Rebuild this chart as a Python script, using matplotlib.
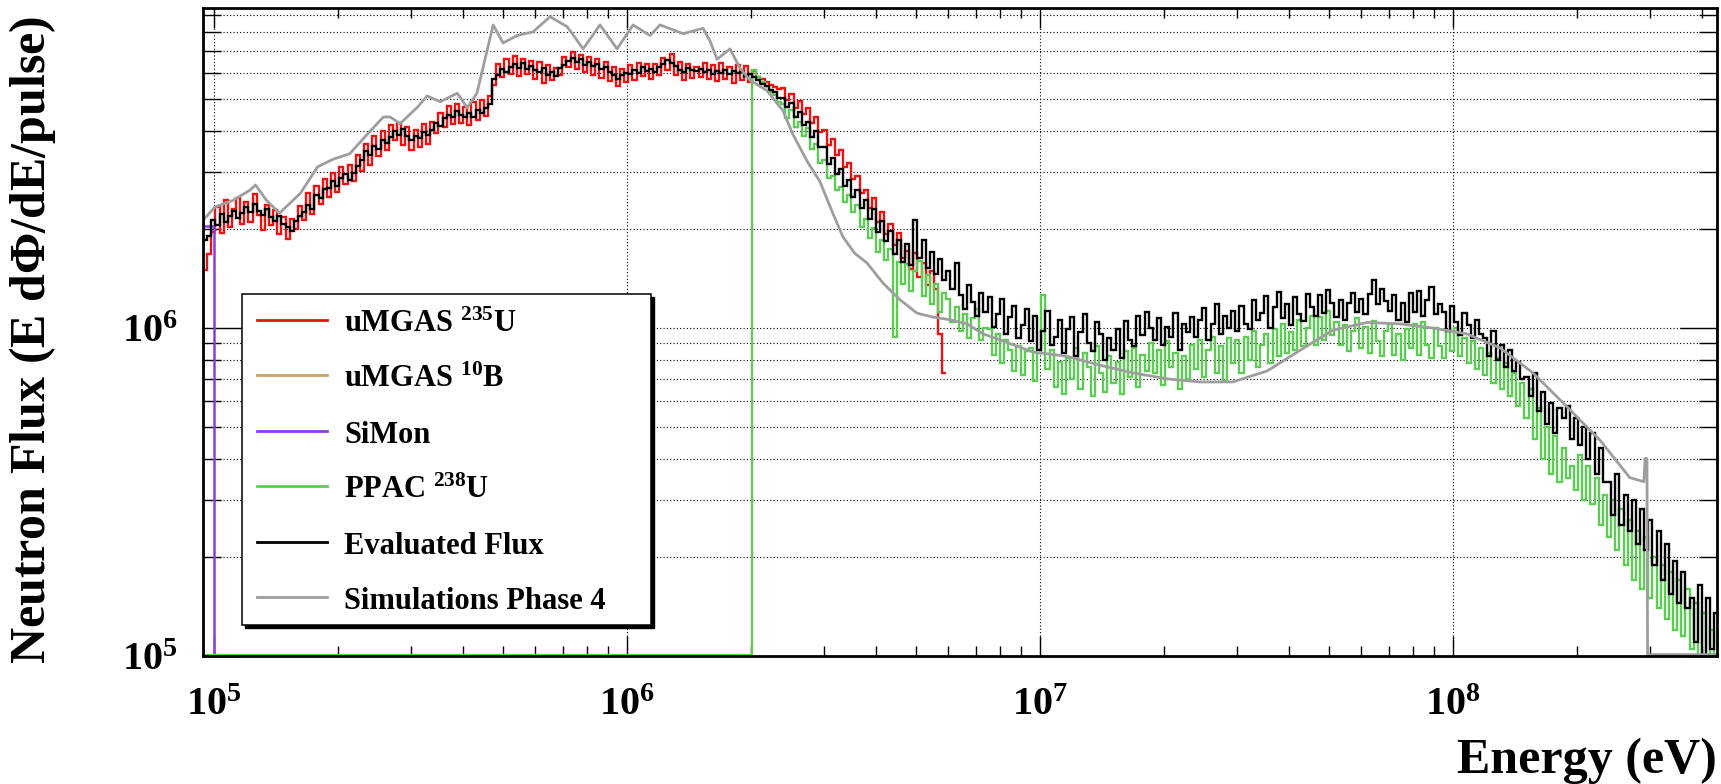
# Neutron flux: detector measurements vs. evaluated flux and simulation

import numpy as np
import matplotlib
matplotlib.use("Agg")
import matplotlib.pyplot as plt
from matplotlib.lines import Line2D
from matplotlib.patches import Rectangle
from matplotlib.ticker import LogLocator, FuncFormatter, NullFormatter

plt.rcParams['font.family'] = 'Liberation Serif'
plt.rcParams['font.weight'] = 'bold'
plt.rcParams['mathtext.fontset'] = 'custom'
plt.rcParams['mathtext.rm'] = 'Liberation Serif:bold'
plt.rcParams['mathtext.bf'] = 'Liberation Serif:bold'
plt.rcParams['mathtext.it'] = 'Liberation Serif:bold:italic'
plt.rcParams['mathtext.default'] = 'bf'

# histogram binning (log bins)
e_min, e_max = 9.4e4, 4.36e8
bins_per_decade = 100
edges = e_min * 10 ** (np.arange(368) / bins_per_decade)

# evaluated flux, in units of 1e5 per pulse
evaluated = np.array([
    18.5, 19.1, 21.4, 20.6, 22.3, 21.0, 21.9, 22.8, 21.6, 22.5,
    23.4, 22.6, 23.9, 22.8, 22.1, 23.0, 21.8, 21.2, 22.0, 20.7,
    20.3, 19.8, 21.2, 21.9, 22.6, 23.8, 23.1, 25.4, 24.9, 26.6,
    26.8, 28.1, 27.2, 28.6, 29.4, 28.3, 29.7, 31.2, 32.5, 34.6,
    33.8, 35.9, 35.2, 37.4, 36.6, 38.3, 39.8, 38.9, 40.4, 38.5,
    37.4, 38.6, 37.9, 39.6, 38.7, 40.3, 42.1, 41.4, 43.6, 44.5,
    44.0, 45.8, 44.7, 43.9, 45.3, 44.1, 46.2, 45.4, 47.0, 48.3,
    57.6, 59.3, 61.5, 60.2, 62.4, 63.8, 62.0, 64.1, 61.7, 62.9,
    61.3, 60.4, 62.2, 59.1, 60.5, 58.8, 61.9, 63.6, 65.4, 66.8,
    64.7, 65.9, 63.5, 64.8, 62.9, 63.7, 61.6, 62.4, 60.3, 59.2,
    57.6, 58.9, 60.1, 59.4, 61.2, 60.0, 62.3, 60.7, 61.5, 60.4,
    62.6, 63.9, 65.6, 64.2, 62.8, 61.3, 60.5, 62.0, 61.1, 60.6,
    61.8, 60.4, 61.2, 59.7, 60.9, 60.1, 61.4, 59.5, 60.6, 59.9,
    60.2, 58.8, 59.6, 58.1, 57.2, 55.4, 54.6, 53.1, 52.3, 50.4,
    50.3, 47.2, 48.6, 44.1, 45.5, 41.6, 42.4, 38.2, 39.9, 35.7,
    35.6, 31.7, 33.0, 29.4, 30.6, 27.2, 28.3, 25.1, 26.4, 23.3,
    24.6, 21.5, 23.0, 19.6, 21.2, 18.4, 19.7, 16.8, 18.6, 15.9,
    18.0, 15.6, 21.3, 16.4, 18.5, 15.2, 17.1, 14.6, 16.2, 14.0,
    14.9, 13.2, 15.8, 12.6, 11.4, 13.5, 12.0, 10.9, 12.8, 11.2,
    12.4, 10.1, 11.0, 12.3, 9.6, 10.8, 11.7, 9.3, 10.2, 11.4,
    9.1, 10.9, 8.6, 9.8, 11.3, 8.9, 9.4, 10.6, 8.4, 9.9,
    10.8, 8.2, 9.7, 11.0, 9.0, 8.5, 10.4, 9.6, 8.0, 9.3,
    8.6, 9.9, 8.1, 10.5, 9.2, 8.8, 10.9, 9.5, 11.2, 10.0,
    9.2, 10.7, 8.9, 10.1, 9.4, 11.1, 8.6, 10.3, 9.7, 10.8,
    9.4, 10.6, 11.5, 9.2, 10.3, 11.8, 9.6, 10.9, 10.0, 11.3,
    9.8, 11.7, 10.3, 9.9, 12.2, 10.6, 11.1, 12.5, 10.0, 11.6,
    12.9, 10.7, 11.8, 10.2, 12.4, 11.0, 10.5, 12.7, 11.6, 10.9,
    12.6, 11.1, 13.1, 11.9, 10.8, 12.2, 10.6, 11.9, 12.8, 11.2,
    12.3, 11.0, 12.7, 14.0, 11.8, 13.2, 12.1, 11.3, 12.6, 10.6,
    11.9, 10.4, 12.8, 11.2, 13.0, 10.9, 12.2, 13.3, 11.0, 11.8,
    11.2, 9.8, 11.7, 10.4, 9.5, 11.1, 10.2, 9.3, 10.6, 9.6,
    9.3, 8.2, 9.8, 8.0, 8.9, 7.6, 8.6, 7.4, 7.9, 7.0,
    7.1, 6.2, 7.3, 5.6, 6.4, 5.1, 5.9, 4.8, 5.7, 5.3,
    5.8, 4.6, 5.3, 4.4, 5.0, 4.0, 4.8, 3.6, 4.3, 3.4,
    3.4, 2.7, 3.6, 2.5, 3.1, 2.4, 3.0, 2.2, 2.8, 2.1,
    2.6, 1.9, 2.4, 1.7, 2.2, 1.55, 1.95, 1.45, 1.8, 1.4,
    1.5, 1.1, 1.65, 0.9, 1.5, 1.05, 1.35]) * 1e5

umgas_u235 = np.array([
    15.0, 16.8, 19.6, 23.4, 19.5, 24.6, 20.3, 23.1, 25.0, 20.8,
    24.3, 21.0, 25.6, 22.1, 19.9, 23.7, 20.6, 22.9, 19.4, 21.8,
    18.7, 21.5, 20.0, 23.6, 21.4, 25.8, 22.3, 27.2, 23.9, 28.4,
    25.1, 29.8, 26.0, 30.9, 27.4, 31.5, 28.0, 33.6, 30.2, 36.4,
    31.5, 38.6, 33.4, 39.9, 34.8, 41.7, 37.5, 42.2, 36.1, 41.0,
    34.9, 40.2, 35.6, 41.8, 36.3, 42.5, 39.4, 45.3, 41.0, 47.7,
    41.8, 48.2, 42.3, 47.1, 41.6, 48.8, 43.2, 49.6, 44.4, 50.9,
    55.0, 63.9, 58.2, 66.1, 59.4, 67.3, 58.8, 66.0, 59.5, 65.2,
    57.4, 64.8, 56.0, 63.5, 57.1, 62.2, 58.9, 67.0, 62.6, 69.5,
    61.8, 68.2, 60.4, 67.1, 59.2, 66.3, 57.8, 64.9, 56.6, 62.3,
    54.9, 61.6, 56.3, 63.4, 57.2, 64.5, 58.6, 64.0, 57.5, 63.8,
    59.0, 66.7, 61.4, 68.3, 59.2, 64.8, 57.1, 63.9, 58.0, 62.7,
    58.3, 64.1, 57.6, 63.5, 56.8, 64.3, 57.3, 62.6, 56.0, 63.2,
    57.2, 62.8, 56.4, 60.9, 58.3, 57.6, 56.1, 55.0, 54.2, 53.4,
    54.0, 49.6, 51.8, 47.0, 49.3, 44.8, 46.9, 42.1, 44.0, 39.6,
    40.1, 36.2, 37.8, 33.6, 34.9, 31.0, 31.8, 28.4, 29.0, 25.8,
    26.4, 23.2, 24.9, 21.0, 22.6, 19.4, 20.8, 17.9, 19.5, 16.3,
    17.2, 15.1, 16.9, 14.3, 15.8, 13.5, 14.9, 13.2, 9.6, 7.3]) * 1e5

# PPAC has no counts below 2 MeV
ppac_u238 = np.array([0.0] * 133 + [
    61.2, 58.4, 56.1, 54.7, 52.3, 51.4, 48.8,
    48.3, 43.6, 46.2, 41.0, 42.5, 38.4, 40.8, 35.1, 36.3, 31.8,
    32.5, 28.6, 29.1, 26.4, 27.0, 24.2, 25.5, 22.6, 23.7, 20.4,
    21.5, 18.8, 20.2, 17.0, 18.6, 16.1, 17.4, 9.4, 15.9, 13.6,
    15.7, 13.0, 14.9, 16.0, 12.5, 14.5, 11.8, 13.6, 11.2, 12.8,
    12.3, 10.4, 11.6, 9.8, 11.0, 9.3, 10.7, 11.4, 9.2, 10.0,
    9.9, 8.3, 9.6, 7.8, 9.2, 8.6, 7.4, 8.8, 7.2, 8.5,
    8.7, 6.9, 8.4, 12.6, 7.5, 8.6, 6.6, 7.9, 6.3, 8.1,
    7.0, 8.7, 6.5, 8.4, 7.6, 6.2, 8.8, 7.3, 6.4, 8.2,
    6.8, 7.9, 6.3, 8.5, 7.1, 8.7, 6.6, 8.3, 7.4, 9.0,
    7.3, 8.6, 6.7, 9.1, 7.6, 8.4, 6.5, 8.2, 7.0, 8.9,
    7.5, 9.2, 7.1, 8.6, 9.4, 7.3, 8.8, 6.9, 9.3, 7.8,
    9.2, 7.3, 9.4, 8.0, 9.8, 7.6, 8.9, 9.6, 7.8, 9.9,
    8.2, 10.3, 8.4, 9.7, 8.6, 10.6, 8.8, 10.0, 10.9, 8.9,
    10.8, 9.2, 11.3, 9.5, 10.4, 8.9, 10.2, 8.5, 9.8, 10.7,
    8.7, 10.1, 8.4, 10.5, 9.1, 8.2, 9.8, 10.3, 8.3, 9.6,
    8.0, 9.9, 8.7, 10.3, 8.3, 10.4, 8.9, 8.1, 10.0, 8.8,
    8.1, 9.8, 8.5, 10.0, 8.2, 9.3, 7.8, 9.1, 7.5, 8.7,
    7.2, 8.4, 6.8, 8.1, 6.5, 7.8, 6.2, 7.3, 5.8, 6.8,
    5.3, 6.5, 4.6, 5.7, 4.0, 5.0, 3.6, 4.7, 3.4, 4.3,
    3.5, 3.8, 3.2, 4.1, 3.0, 3.8, 2.9, 3.5, 2.5, 3.1,
    2.3, 3.0, 2.1, 2.8, 1.9, 2.6, 1.7, 2.4, 1.6, 2.3,
    1.5, 2.0, 1.4, 1.9, 1.3, 1.8, 1.2, 1.7, 1.15, 1.6,
    1.05, 1.45, 0.95, 1.35, 0.85, 1.2, 1.0]) * 1e5

simon_edges = [9.4e4, 1.0e5, 2.0e6]
simon = [2.05e6, 0.0]

# simulation (FLUKA phase 4)
sim_energy = [9.4e4, 1.005e5, 1.11e5, 1.22e5, 1.26e5, 1.34e5, 1.44e5, 1.62e5, 1.78e5, 1.94e5,
              2.13e5, 2.35e5, 2.57e5, 2.67e5, 2.82e5, 3.10e5, 3.28e5, 3.53e5, 3.88e5, 4.10e5,
              4.33e5, 4.58e5, 4.74e5, 5.01e5, 5.42e5, 5.92e5, 6.51e5, 7.16e5, 7.83e5, 8.60e5,
              9.46e5, 1.034e6, 1.137e6, 1.202e6, 1.367e6, 1.528e6, 1.589e6, 1.652e6, 1.776e6, 1.877e6,
              1.985e6, 2.18e6, 2.386e6, 2.52e6, 2.74e6, 2.93e6, 3.15e6, 3.33e6, 3.56e6, 3.81e6,
              4.17e6, 4.58e6, 5.04e6, 5.51e6, 6.05e6, 6.66e6, 7.28e6, 8.0e6, 9.62e6, 1.163e7,
              1.398e7, 1.68e7, 2.03e7, 2.44e7, 2.93e7, 3.55e7, 4.26e7, 5.12e7, 6.19e7, 7.44e7,
              8.94e7, 1.081e8, 1.30e8, 1.562e8, 1.89e8, 2.27e8, 2.68e8, 2.90e8, 2.92e8, 2.95e8,
              2.96e8, 4.4e8]
sim_flux = [2.13e6, 2.34e6, 2.45e6, 2.63e6, 2.73e6, 2.45e6, 2.24e6, 2.58e6, 3.1e6, 3.27e6,
            3.4e6, 3.9e6, 4.4e6, 4.4e6, 4.2e6, 4.7e6, 5.1e6, 4.9e6, 5.2e6, 4.7e6,
            5.2e6, 7.0e6, 8.4e6, 7.4e6, 7.8e6, 8.0e6, 8.9e6, 8.3e6, 7.1e6, 8.4e6,
            7.1e6, 8.4e6, 7.8e6, 8.4e6, 7.9e6, 8.2e6, 7.5e6, 6.6e6, 7.1e6, 6.2e6,
            5.7e6, 5.3e6, 4.6e6, 3.9e6, 3.2e6, 2.8e6, 2.24e6, 1.9e6, 1.69e6, 1.58e6,
            1.37e6, 1.22e6, 1.11e6, 1.08e6, 1.06e6, 1.03e6, 9.6e5, 9.2e5, 8.45e5, 8.2e5,
            7.7e5, 7.3e5, 7.0e5, 6.85e5, 6.85e5, 7.4e5, 8.55e5, 9.85e5, 1.04e6, 1.03e6,
            1.0e6, 9.6e5, 8.7e5, 7.3e5, 5.75e5, 4.55e5, 3.5e5, 3.4e5, 4.0e5, 4.0e5,
            0.0, 0.0]

labels = [r'uMGAS $^{235}$U', r'uMGAS $^{10}$B', 'SiMon', r'PPAC $^{238}$U',
          'Evaluated Flux', 'Simulations Phase 4']
colors = ['#ee1111', '#c8a060', '#8c3ce6', '#5ccc55', '#000000', '#9e9e9e']

W, H = 1721, 784
fig = plt.figure(figsize=(W / 100, H / 100), dpi=100)
ax = fig.add_axes([203 / W, 1 - 656 / H, (1717 - 203) / W, (656 - 8) / H])
ax.set_xscale('log')
ax.set_yscale('log')
y_min, y_max = 1e5, 9.46e6
floor = 1.01e5   # empty bins sit on the bottom axis

ax.stairs(np.maximum(umgas_u235, floor), edges[:len(umgas_u235) + 1],
          baseline=None, color=colors[0], lw=1.7)
ax.stairs(np.maximum(simon, floor), simon_edges, baseline=None, color=colors[2], lw=1.8)
ax.stairs(np.maximum(ppac_u238, floor), edges, baseline=None, color=colors[3], lw=1.7)
ax.stairs(np.maximum(evaluated, 5e4), edges, baseline=None, color=colors[4], lw=1.7)
ax.plot(sim_energy, np.maximum(sim_flux, floor), color=colors[5], lw=2.0)

ax.set_xlim(e_min, e_max)
ax.set_ylim(y_min, y_max)

fmt = FuncFormatter(lambda v, pos: r'$\mathbf{10^{%d}}$' % round(np.log10(v)))
for axis in (ax.xaxis, ax.yaxis):
    axis.set_major_locator(LogLocator(base=10, numticks=20))
    axis.set_minor_locator(LogLocator(base=10, subs=np.arange(2, 10), numticks=20))
    axis.set_major_formatter(fmt)
    axis.set_minor_formatter(NullFormatter())

grid_style = dict(color='black', linestyle=(0, (1, 2.0)), linewidth=0.8)
ax.yaxis.grid(True, which='both', **grid_style)
ax.xaxis.grid(True, which='major', **grid_style)
ax.set_axisbelow(True)

ax.tick_params(which='both', direction='in', top=True, right=True, width=1.0,
               colors='black', labelsize=29)
ax.tick_params(axis='x', which='major', length=14.5, pad=22)
ax.tick_params(axis='x', which='minor', length=7.2)
ax.tick_params(axis='y', which='major', length=27, pad=18)
ax.tick_params(axis='y', which='minor', length=13)
for s in ax.spines.values():
    s.set_linewidth(2.0)

fig.text(1717 / W, 1 - 773 / H, 'Energy (eV)', ha='right', va='baseline', fontsize=36)
fig.text(33 / W, 1 - 16 / H, r'Neutron Flux (E d$\Phi$/dE/pulse)', rotation=90,
         ha='center', va='top', fontsize=36)

# legend box with black drop shadow
lx0, lx1, ly0, ly1 = 242, 651, 294, 625
fig.add_artist(Rectangle(((lx0 + 3) / W, 1 - (ly1 + 3) / H), (lx1 - lx0) / W, (ly1 - ly0) / H,
                         transform=fig.transFigure, facecolor='black', edgecolor='black', zorder=5))
fig.add_artist(Rectangle((lx0 / W, 1 - ly1 / H), (lx1 - lx0) / W, (ly1 - ly0) / H,
                         transform=fig.transFigure, facecolor='white', edgecolor='black',
                         lw=1.1, zorder=6))
for i, (lab, c) in enumerate(zip(labels, colors)):
    yrow = 320 + 55.4 * i
    fig.add_artist(Line2D([257 / W, 327 / W], [1 - yrow / H, 1 - yrow / H],
                          transform=fig.transFigure, color=c, lw=2.0, zorder=7))
    fig.text(344 / W, 1 - (yrow + 12) / H, lab, ha='left', va='baseline',
             fontsize=22, zorder=7)

fig.savefig('out.png', dpi=100)
